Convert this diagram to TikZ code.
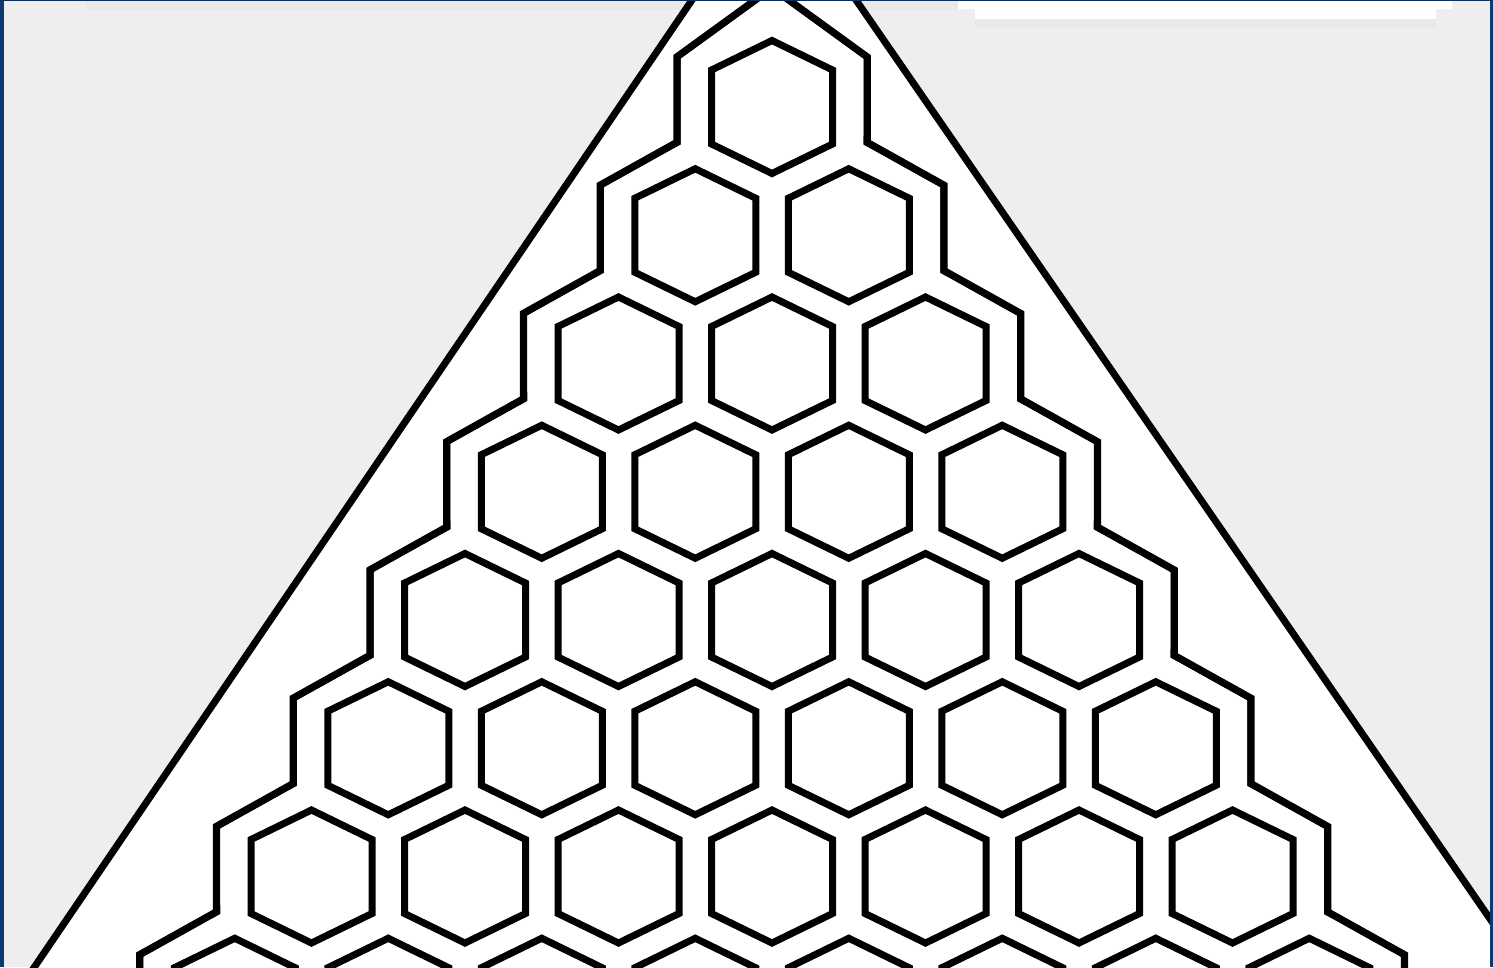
\documentclass[tikz,border=0pt]{standalone}
\definecolor{bggray}{HTML}{EEEEEE}
\definecolor{stripgray}{HTML}{E9E9E9}
\definecolor{frameblue}{HTML}{0B3B70}
\definecolor{framedark}{HTML}{08305C}
\tikzset{
  hexline/.style={draw=black, line width=7pt, line join=miter},
  outerline/.style={draw=black, line width=7.5pt, line join=miter},
  outerfill/.style={fill=white},
  trishape/.style={fill=white, draw=black, line width=7pt, line join=miter},
  bandfill/.style={fill=frameblue},
}
\begin{document}
\begin{tikzpicture}[x=1pt,y=-1pt]
\useasboundingbox (0,0) rectangle (1493,967);
\begin{scope}
  \clip (0,0) rectangle (1493,967);
  % background
  \fill[bggray] (0,0) rectangle (1493,967);
  \fill[stripgray] (85,1) rectangle (960,10);
  \fill[stripgray] (975,19) rectangle (1436,28);
  \fill[white] (958,1) -- (1452,1) -- (1452,9) -- (1436,9) -- (1436,19)
               -- (975,19) -- (975,9) -- (958,9) -- cycle;
  % triangle
  \path[trishape] (773.4,-119.7) -- (12,1000) -- (1546,1000) -- cycle;
  % outer boundary: strokes of all outer hexagons
  \foreach \r in {1,...,8}{
    \foreach \k in {1,...,\r}{
      \pgfmathsetmacro\cx{772+(\k-(\r+1)/2)*153.5}
      \pgfmathsetmacro\cy{107+(\r-1)*128.25}
      \pgfmathsetmacro\bo{\r==1 ? 119 : 103}
      \path[outerline] ({\cx},{\cy-\bo}) -- ({\cx+95},{\cy-50}) -- ({\cx+95},{\cy+50})
        -- ({\cx},{\cy+103}) -- ({\cx-95},{\cy+50}) -- ({\cx-95},{\cy-50}) -- cycle;
    }
  }
  % white fills hide the interior parts of those strokes
  \foreach \r in {1,...,8}{
    \foreach \k in {1,...,\r}{
      \pgfmathsetmacro\cx{772+(\k-(\r+1)/2)*153.5}
      \pgfmathsetmacro\cy{107+(\r-1)*128.25}
      \pgfmathsetmacro\bf{\r==1 ? 114.4 : 98.7}
      \pgfmathsetmacro\cf{\r==1 ? 48.1 : 47.8}
      \path[outerfill] ({\cx},{\cy-\bf}) -- ({\cx+91.25},{\cy-\cf}) -- ({\cx+91.25},{\cy+47.8})
        -- ({\cx},{\cy+98.7}) -- ({\cx-91.25},{\cy+47.8}) -- ({\cx-91.25},{\cy-\cf}) -- cycle;
    }
  }
  % inner hexagons
  \foreach \r in {1,...,8}{
    \foreach \k in {1,...,\r}{
      \pgfmathsetmacro\cx{772+(\k-(\r+1)/2)*153.5}
      \pgfmathsetmacro\cy{107+(\r-1)*128.25}
      \path[hexline] ({\cx},{\cy-66.5}) -- ({\cx+60.5},{\cy-37}) -- ({\cx+60.5},{\cy+37})
        -- ({\cx},{\cy+66.5}) -- ({\cx-60.5},{\cy+37}) -- ({\cx-60.5},{\cy-37}) -- cycle;
    }
  }
  % window frame
  \path[bandfill] (0,0) rectangle (4,967);
  \path[bandfill] (1489.5,0) rectangle (1493,967);
  \fill[framedark] (0,0) rectangle (1493,1.3);
\end{scope}
\end{tikzpicture}
\end{document}
